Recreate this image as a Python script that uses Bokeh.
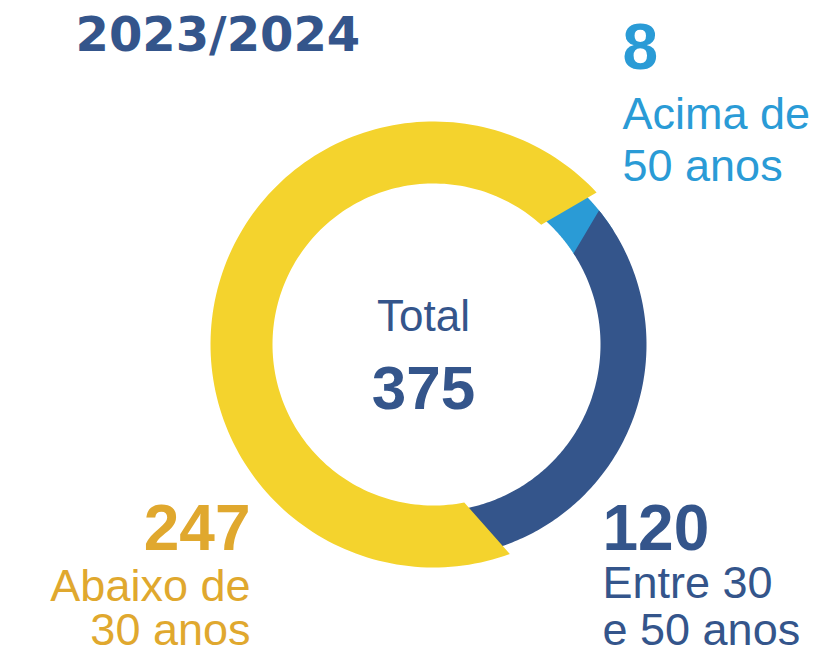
import numpy as np
from bokeh.plotting import figure
from bokeh.models import Range1d
from bokeh.core.properties import value
from bokeh.embed import file_html
from bokeh.resources import INLINE

# ---- data ----
period = "2023/2024"
categories = ["Acima de 50 anos", "Entre 30 e 50 anos", "Abaixo de 30 anos"]
values = [8, 120, 247]
label_line1 = ["Acima de", "Entre 30", "Abaixo de"]
label_line2 = ["50 anos", "e 50 anos", "30 anos"]
total_label = "Total"

# ---- style ----
colors = ["#2a9bd6", "#34558b", "#f4d32d"]
text_colors = ["#2a9bd6", "#34558b", "#e0a82e"]
FONT = "Liberation Sans"
W, H = 815, 658
cx, cy = 433, 344
start_deg = 44.0
BL = 0.4  # baseline correction (fraction of font size)

total = sum(values)
spans = [v / total * 360.0 for v in values]
b0 = start_deg
b1 = b0 + spans[0]
b2 = b1 + spans[1]
b3 = b2 + spans[2]


def seg(a0_out, a0_in, a1_out, a1_in, r_in, r_out, n=160):
    ao = np.radians(np.linspace(a0_out, a1_out, n))
    ai = np.radians(np.linspace(a1_in, a0_in, n))
    xs = list(cx + r_out * np.sin(ao)) + list(cx + r_in * np.sin(ai))
    ys = list(cy - r_out * np.cos(ao)) + list(cy - r_in * np.cos(ai))
    return xs, ys


polys = [
    seg(b0 - 6, b0 - 6, b1 + 6, b1 + 6, 167, 213),
    seg(b1 - 0.7, b1 + 5.3, b2 + 6, b2 + 6, 167, 213),
    seg(b2 - 6.9, b2 + 2.1, b3 + 3, b3 - 2, 161, 223),
]

p = figure(width=W, height=H, x_range=Range1d(0, W), y_range=Range1d(H, 0),
           output_backend="svg", toolbar_location=None, min_border=0)
p.axis.visible = False
p.grid.visible = False
p.outline_line_color = None
p.background_fill_color = "white"
p.border_fill_color = "white"

p.patches(xs=[q[0] for q in polys], ys=[q[1] for q in polys],
          fill_color=colors, line_color=None)


def txt(x, y, s, size, color, align, bold=False, font=FONT):
    p.text(x=x, y=[yy - BL * size for yy in y], text=s, text_font=value(font),
           text_font_size=f"{size}px", text_font_style="bold" if bold else "normal",
           text_color=color, text_align=align, text_baseline="alphabetic")


# title
txt([75], [53], [period], 48, "#34558b", "left", bold=True, font="DejaVu Sans")

# center
txt([423], [333], [total_label], 44, "#34558b", "center")
txt([423], [412], [str(total)], 62, "#34558b", "center", bold=True)

# labels: (x, align, value baseline, line1 baseline, line2 baseline)
lab_pos = [
    (622, "left", 72, 131, 183),
    (602, "left", 553, 600, 647),
    (250, "right", 553, 603, 647),
]
for i, (x, al, yv, y1, y2) in enumerate(lab_pos):
    txt([x], [yv], [str(values[i])], 64, text_colors[i], al, bold=True)
    txt([x, x], [y1, y2], [label_line1[i], label_line2[i]], 45, text_colors[i], al)

open("out.html", "w").write(file_html(p, INLINE))
